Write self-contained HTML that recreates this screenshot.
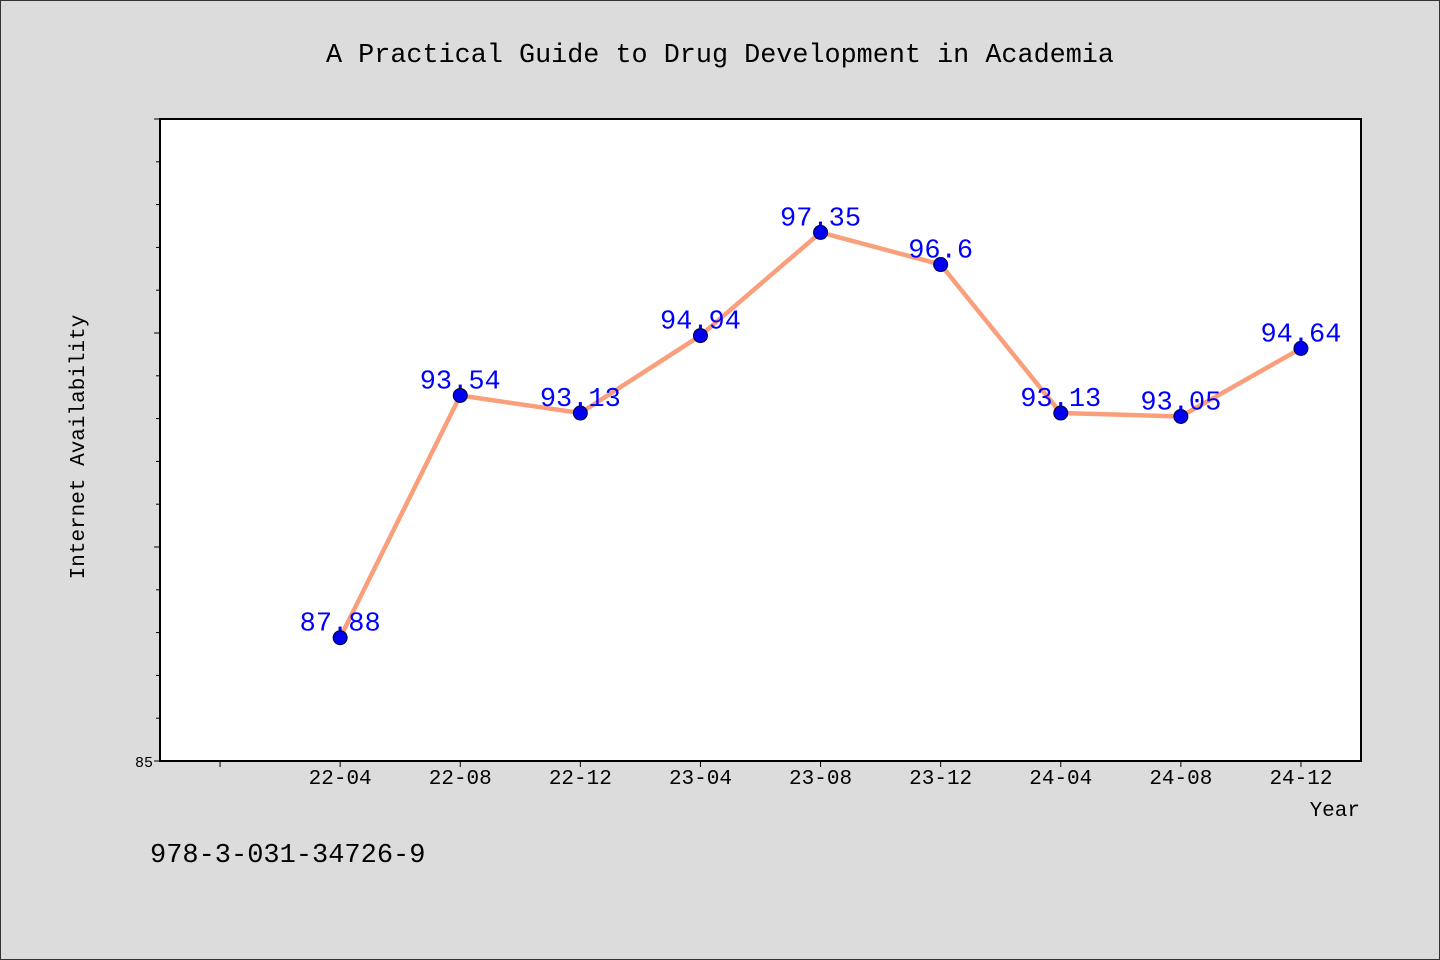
<!DOCTYPE html>
<html><head><meta charset="utf-8"><style>
body{margin:0;background:#dcdcdc}
svg{display:block}
text{font-family:"Liberation Mono","WenQuanYi Zen Hei",monospace}
</style></head><body>
<svg width="1440" height="960" id="c">
<rect x="0.5" y="0.5" width="1439" height="959" fill="#dcdcdc" stroke="#333"/>
<text x="720" y="62" text-anchor="middle" font-size="26.8" fill="#000">A Practical Guide to Drug Development in Academia</text>
<rect x="160" y="119" width="1201" height="642" fill="#fff" stroke="#000" stroke-width="2"/>
<text transform="translate(84,447) rotate(-90)" text-anchor="middle" font-size="21" fill="#000">Internet Availability</text>
<text x="1360" y="816" text-anchor="end" font-size="21" fill="#000">Year</text>
<text x="150" y="862" font-size="27" fill="#000">978-3-031-34726-9</text>
<g id="g"></g>
</svg>
<script>
const categories=["22-04","22-08","22-12","23-04","23-08","23-12","24-04","24-08","24-12"];
const values=[87.88,93.54,93.13,94.94,97.35,96.6,93.13,93.05,94.64];
const yTickLabels=["85"];
const yMin=85,yMax=100;
const L=160,R=1361,T=119,B=761;
const x=i=>L+(i+1.5)*(R-L)/10;
const y=v=>B-(v-yMin)*(B-T)/(yMax-yMin);
const g=document.getElementById('g');
const NS='http://www.w3.org/2000/svg';
function mk(t,a){const e=document.createElementNS(NS,t);for(const k in a)e.setAttribute(k,a[k]);g.appendChild(e);return e;}
for(let v=yMin;v<=yMax;v++){const major=(v%5===0);
 const e=mk('line',{x1:L-(major?6:4),x2:L,y1:y(v),y2:y(v),stroke:'#000','stroke-width':1});
 
 }
const yl=mk('text',{x:153,y:y(yMin)+6,'text-anchor':'end','font-size':15,fill:'#000'});
yl.textContent=yTickLabels[0];


for(let i=-1;i<categories.length;i++){
 const e=mk('line',{x1:x(i),x2:x(i),y1:B,y2:B+6,stroke:'#000'});
 
 
 if(i>=0){const t=mk('text',{x:x(i),y:B+23,'text-anchor':'middle','font-size':21,fill:'#000'});t.textContent=categories[i];
 
 }
}
const pl=mk('polyline',{points:values.map((v,i)=>x(i)+','+y(v)).join(' '),fill:'none',stroke:'#fa9f7c','stroke-width':4.5,'stroke-linejoin':'round'});


values.forEach((v,i)=>{
 const t=mk('text',{x:x(i),y:y(v)-7,'text-anchor':'middle','font-size':27,fill:'#0000ff'});
 t.textContent=String(v);
 
 
});
values.forEach((v,i)=>{
 const c=mk('circle',{cx:x(i),cy:y(v),r:7,fill:'#0000ee',stroke:'#000033','stroke-width':1});
 
 
});
</script>
</body></html>
